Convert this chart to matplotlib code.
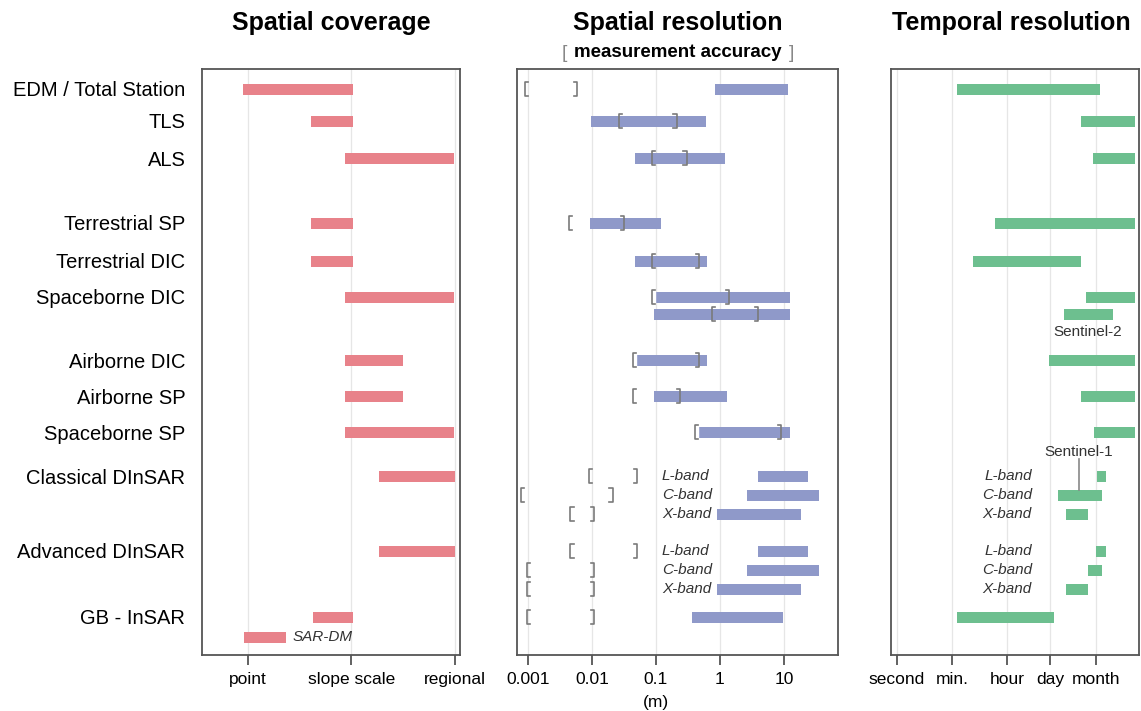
import matplotlib.pyplot as plt
import matplotlib.transforms as mtransforms
import numpy as np

plt.rcParams['font.family'] = ['Liberation Sans', 'DejaVu Sans']

# row labels and which slot they sit on
categories = ['EDM / Total Station', 'TLS', 'ALS', 'Terrestrial SP', 'Terrestrial DIC',
              'Spaceborne DIC', 'Airborne DIC', 'Airborne SP', 'Spaceborne SP',
              'Classical DInSAR', 'Advanced DInSAR', 'GB - InSAR']
cat_slots = [0, 1, 2, 3, 4, 5, 7, 8, 9, 10, 13, 16]

# spatial coverage (0 = point, 1 = slope scale, 2 = regional)
cov_slots = [0, 1, 2, 3, 4, 5, 7, 8, 9, 10, 13, 16, 17]
cov_lo = [-0.05, 0.61, 0.94, 0.61, 0.61, 0.94, 0.94, 0.94, 0.94, 1.27, 1.27, 0.63, -0.04]
cov_hi = [1.01, 1.01, 1.99, 1.01, 1.01, 1.99, 1.50, 1.50, 1.99, 2.00, 2.00, 1.01, 0.37]

# spatial resolution (m) and measurement accuracy (m)
res_slots = list(range(17))
res_lo = [0.83, 0.0096, 0.047, 0.0093, 0.047, 0.089, 0.092, 0.047, 0.092, 0.44,
          3.9, 2.65, 0.9, 3.9, 2.65, 0.9, 0.36]
res_hi = [11.5, 0.6, 1.2, 0.12, 0.62, 12.3, 12.3, 0.62, 1.3, 12.3,
          23.7, 35.6, 18.6, 23.7, 35.6, 18.6, 9.6]
acc_lo = [0.0009, 0.026, 0.087, 0.0044, 0.087, 0.087, 0.75, 0.044, 0.044, 0.41,
          0.009, 0.00078, 0.0046, 0.0046, 0.00097, 0.00097, 0.00097]
acc_hi = [0.0059, 0.21, 0.3, 0.032, 0.47, 1.4, 3.9, 0.47, 0.24, 8.9,
          0.05, 0.021, 0.0107, 0.05, 0.0107, 0.0107, 0.0107]

# temporal resolution (s)
tmp_slots = list(range(17))
tmp_lo = [87, 8.7e5, 2.1e6, 1445, 282, 1.26e6, 2.45e5, 7.9e4, 8.7e5, 2.24e6,
          2.8e6, 1.55e5, 2.8e5, 2.6e6, 1.45e6, 2.8e5, 87]
tmp_hi = [3.55e6, 4.8e7, 4.8e7, 4.8e7, 8.7e5, 4.8e7, 9.3e6, 4.8e7, 4.8e7, 4.8e7,
          5.5e6, 4.1e6, 1.45e6, 5.5e6, 4.1e6, 1.45e6, 1.15e5]

band_names = ['L-band', 'C-band', 'X-band', 'L-band', 'C-band', 'X-band']
band_slots = [10, 11, 12, 13, 14, 15]

cov_ticks = [0, 1, 2]
cov_labels = ['point', 'slope scale', 'regional']
res_ticks = [0.001, 0.01, 0.1, 1, 10]
res_labels = ['0.001', '0.01', '0.1', '1', '10']
tmp_ticks = [1, 60, 3600, 86400, 2.592e6]
tmp_labels = ['second', 'min.', 'hour', 'day', 'month']

# layout (vertical positions of the slots, in figure pixels from top)
slot_y = [89, 121, 158, 223, 261, 297, 314, 360, 396, 432,
          476, 495, 514, 551, 570, 589, 617, 637]

W, H = 1141, 711
RED = '#E8828A'
BLUE = '#8F99C9'
GREEN = '#6DBF8F'
EDGE = '#555555'
BAR_H = 11


def rect(x0, x1, y0=69, y1=655):
    return [x0 / W, 1 - y1 / H, (x1 - x0) / W, (y1 - y0) / H]


def style(ax, ticks, labels):
    ax.set_ylim(655, 69)
    ax.set_yticks([])
    ax.set_xticks(ticks)
    ax.set_xticklabels(labels, fontsize=12.5)
    ax.minorticks_off()
    ax.tick_params(axis='x', length=7, width=1.3, color=EDGE, pad=5)
    for s in ax.spines.values():
        s.set_color(EDGE)
        s.set_linewidth(1.3)
    ax.set_axisbelow(True)
    ax.grid(axis='x', color='#e6e6e6', linewidth=0.9)


def bracket(ax, x, y, side, fill=False):
    f = 10 ** 0.05
    h = 7
    xi = x * f if side == 'l' else x / f
    if fill:
        ax.fill([x, xi, xi, x], [y - h, y - h, y + h, y + h], color='white', zorder=3)
    ax.plot([xi, x, x, xi], [y - h, y - h, y + h, y + h], color='#7a7a7a', lw=1.2, zorder=4)


fig = plt.figure(figsize=(W / 100, H / 100), dpi=100)

# ---- spatial coverage
ax1 = fig.add_axes(rect(202, 460))
ys = [slot_y[s] for s in cov_slots]
ax1.barh(ys, np.array(cov_hi) - np.array(cov_lo), left=cov_lo, height=BAR_H, color=RED)
style(ax1, cov_ticks, cov_labels)
ax1.set_xlim(-0.444, 2.048)
ax1.set_yticks([slot_y[s] for s in cat_slots])
ax1.set_yticklabels(categories, fontsize=14.5)
ax1.tick_params(axis='y', length=0, pad=12)
ax1.set_ylim(655, 69)
ax1.text(0.435, slot_y[17], 'SAR-DM', fontsize=11, style='italic', color='#333333',
         va='center', ha='left')

# ---- spatial resolution
ax2 = fig.add_axes(rect(517, 838))
ax2.set_xscale('log')
ys = [slot_y[s] for s in res_slots]
ax2.barh(ys, np.array(res_hi) - np.array(res_lo), left=res_lo, height=BAR_H, color=BLUE, zorder=2)
for y, lo, hi, blo in zip(ys, acc_lo, acc_hi, res_lo):
    bracket(ax2, lo, y, 'l', fill=abs(np.log10(lo / blo)) < 0.1)
    bracket(ax2, hi, y, 'r')
style(ax2, res_ticks, res_labels)
ax2.set_xlim(10 ** -3.172, 10 ** 1.844)
for name, s in zip(band_names, band_slots):
    ax2.text(0.124, slot_y[s], name, fontsize=11, style='italic', color='#333333',
             va='center', ha='left')
trans = mtransforms.blended_transform_factory(ax2.transData, fig.transFigure)
ax2.text(0.1, 1 - 702 / H, '(m)', transform=trans, fontsize=12.5, ha='center', va='center')

# ---- temporal resolution
ax3 = fig.add_axes(rect(891, 1139))
ax3.set_xscale('log')
ys = [slot_y[s] for s in tmp_slots]
ax3.barh(ys, np.array(tmp_hi) - np.array(tmp_lo), left=tmp_lo, height=BAR_H, color=GREEN, zorder=2)
style(ax3, tmp_ticks, tmp_labels)
ax3.set_xlim(10 ** -0.19, 10 ** 7.81)
for name, s in zip(band_names, band_slots):
    ax3.text(2.25e4, slot_y[s], name, fontsize=11, style='italic', color='#333333',
             va='center', ha='right')
ax3.text(1.45e6, 332, 'Sentinel-2', fontsize=11, color='#333333', ha='center', va='center')
ax3.text(7.4e5, 452, 'Sentinel-1', fontsize=11, color='#333333', ha='center', va='center')
ax3.plot([7.6e5, 7.6e5], [459, 490], color='#888888', lw=1.2, zorder=3)

# ---- titles
fig.text(331 / W, 1 - 30 / H, 'Spatial coverage', fontsize=18, fontweight='bold',
         ha='center', va='baseline')
fig.text(678 / W, 1 - 30 / H, 'Spatial resolution', fontsize=18, fontweight='bold',
         ha='center', va='baseline')
fig.text(1011 / W, 1 - 30 / H, 'Temporal resolution', fontsize=18, fontweight='bold',
         ha='center', va='baseline')
fig.text(678 / W, 1 - 57 / H, 'measurement accuracy', fontsize=13.5, fontweight='bold',
         ha='center', va='baseline')
fig.text(564 / W, 1 - 58 / H, '[', fontsize=14, color='#888888', ha='center', va='baseline')
fig.text(792 / W, 1 - 58 / H, ']', fontsize=14, color='#888888', ha='center', va='baseline')

fig.savefig('out.png', dpi=100)
